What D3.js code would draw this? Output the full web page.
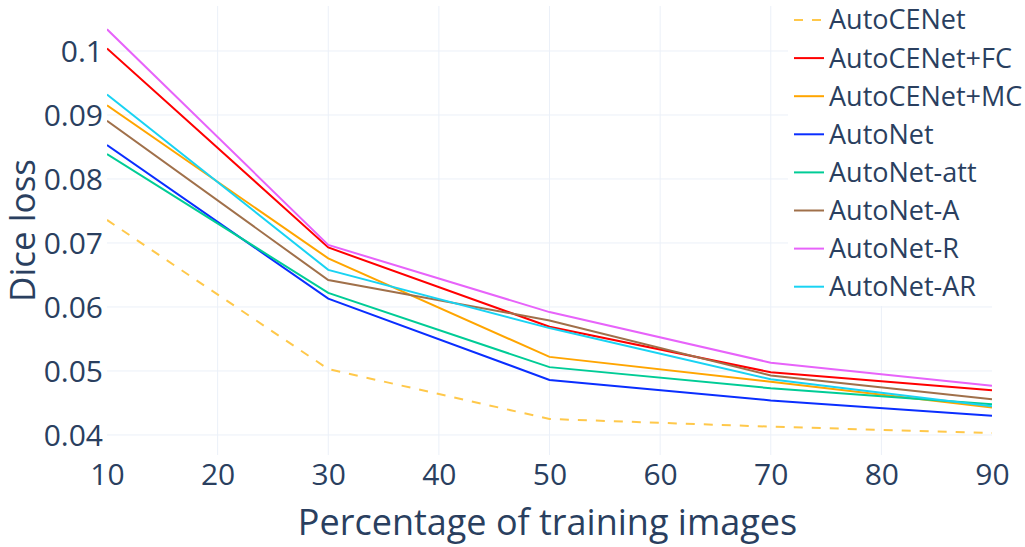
<!DOCTYPE html>
<html>
<head>
<meta charset="utf-8">
<script src="https://cdn.jsdelivr.net/npm/d3@7"></script>
<style>
  body { margin: 0; background: #fff; }
  svg { display: block; font-family: "Open Sans", sans-serif; }
</style>
</head>
<body>
<div id="chart"></div>
<script>
// training percentages on the x axis
const percentages = [10, 30, 50, 70, 90];

const seriesNames = ["AutoCENet", "AutoCENet+FC", "AutoCENet+MC", "AutoNet",
    "AutoNet-att", "AutoNet-A", "AutoNet-R", "AutoNet-AR"];

const seriesColors = ["#ffc84a", "#ff0000", "#ffa500", "#0a2eff",
    "#00cc96", "#a0704a", "#e763fa", "#19d3f3"];

// dice loss per series
const autoCENet   = [0.0736, 0.0503, 0.0425, 0.0413, 0.0403];
const autoCENetFC = [0.1004, 0.0693, 0.0569, 0.0498, 0.0470];
const autoCENetMC = [0.0915, 0.0676, 0.0522, 0.0483, 0.0443];
const autoNet     = [0.0853, 0.0613, 0.0486, 0.0454, 0.0430];
const autoNetAtt  = [0.0839, 0.0622, 0.0506, 0.0473, 0.0448];
const autoNetA    = [0.0891, 0.0642, 0.0579, 0.0493, 0.0456];
const autoNetR    = [0.1034, 0.0697, 0.0592, 0.0513, 0.0477];
const autoNetAR   = [0.0932, 0.0658, 0.0567, 0.0487, 0.0445];

const seriesValues = [autoCENet, autoCENetFC, autoCENetMC, autoNet,
    autoNetAtt, autoNetA, autoNetR, autoNetAR];

const yTicks = [0.04, 0.05, 0.06, 0.07, 0.08, 0.09, 0.1];
const xTicks = [10, 20, 30, 40, 50, 60, 70, 80, 90];

const width = 1025, height = 547;
const margin = { top: 6, right: 33, bottom: 92, left: 107 };
const innerW = width - margin.left - margin.right;
const innerH = height - margin.top - margin.bottom;

const textColor = "#2a3f5f";
const gridColor = "#ebf0f8";

const x = d3.scaleLinear().domain([10, 90]).range([0, innerW]);
const y = d3.scaleLinear().domain([0.03687, 0.10703]).range([innerH, 0]);

const svg = d3.select("#chart").append("svg")
    .attr("width", width)
    .attr("height", height);

svg.append("defs").append("clipPath").attr("id", "plot-clip")
    .append("rect").attr("width", innerW).attr("height", innerH);

const plot = svg.append("g").attr("transform", `translate(${margin.left},${margin.top})`);

// grid (no lines on the x edges)
plot.append("g")
    .selectAll("line")
    .data(xTicks.filter(d => d !== 10 && d !== 90))
    .join("line")
    .attr("x1", d => x(d)).attr("x2", d => x(d))
    .attr("y1", 0).attr("y2", innerH)
    .attr("stroke", gridColor).attr("stroke-width", 1);

plot.append("g")
    .selectAll("line")
    .data(yTicks)
    .join("line")
    .attr("x1", 0).attr("x2", innerW)
    .attr("y1", d => y(d)).attr("y2", d => y(d))
    .attr("stroke", gridColor).attr("stroke-width", 1);

// axes, only the labels are shown
const xAxis = d3.axisBottom(x).tickValues(xTicks).tickSize(0).tickPadding(0).tickFormat(d3.format("d"));
const yAxis = d3.axisLeft(y).tickValues(yTicks).tickSize(0).tickPadding(0).tickFormat(d => String(+d.toFixed(2)));

const gx = plot.append("g").attr("transform", `translate(0,${innerH})`).call(xAxis);
gx.select(".domain").remove();
gx.selectAll("text")
    .attr("dy", null)
    .attr("y", 30)
    .attr("fill", textColor)
    .style("font-size", "30px")
    .style("font-family", "Open Sans");

const gy = plot.append("g").call(yAxis);
gy.select(".domain").remove();
gy.selectAll("text")
    .attr("x", -4)
    .attr("dy", "0.36em")
    .attr("fill", textColor)
    .style("font-size", "30px")
    .style("font-family", "Open Sans");

// lines
const line = d3.line()
    .x((d, i) => x(percentages[i]))
    .y(d => y(d));

plot.append("g").attr("clip-path", "url(#plot-clip)")
    .selectAll("path")
    .data(seriesValues)
    .join("path")
    .attr("d", line)
    .attr("fill", "none")
    .attr("stroke", (d, i) => seriesColors[i])
    .attr("stroke-width", 2)
    .attr("stroke-dasharray", (d, i) => i === 0 ? "9,9" : null);

// axis titles
svg.append("text")
    .attr("x", margin.left + innerW / 2 - 2)
    .attr("y", 535)
    .attr("text-anchor", "middle")
    .attr("fill", textColor)
    .style("font-size", "36px")
    .text("Percentage of training images");

svg.append("text")
    .attr("transform", `translate(35,${margin.top + innerH / 2}) rotate(-90)`)
    .attr("text-anchor", "middle")
    .attr("fill", textColor)
    .style("font-size", "35px")
    .text("Dice loss");

// legend
const legend = svg.append("g").attr("transform", "translate(788,0)");
legend.append("rect")
    .attr("width", width - 788).attr("height", 306)
    .attr("fill", "#fff");

const items = legend.selectAll("g.item")
    .data(seriesNames)
    .join("g")
    .attr("class", "item")
    .attr("transform", (d, i) => `translate(0,${20 + i * 38.1})`);

items.append("line")
    .attr("x1", 6).attr("x2", 36)
    .attr("stroke", (d, i) => seriesColors[i])
    .attr("stroke-width", 2)
    .attr("stroke-dasharray", (d, i) => i === 0 ? "9,9" : null);

items.append("text")
    .attr("x", 41)
    .attr("dy", "0.35em")
    .attr("fill", textColor)
    .style("font-size", "27px")
    .text(d => d);
</script>
</body>
</html>
